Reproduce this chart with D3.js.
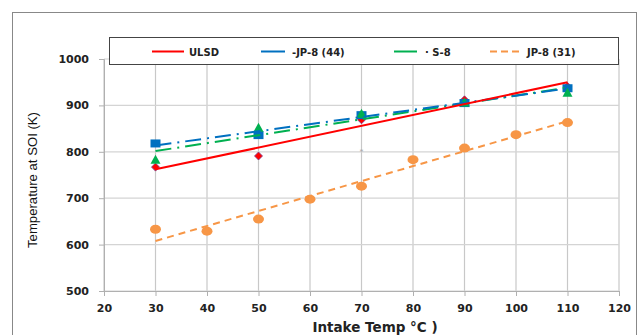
<!DOCTYPE html>
<html>
<head>
<meta charset="utf-8">
<script src="https://cdn.jsdelivr.net/npm/d3@7"></script>
<style>
  body { margin: 0; background: #fff; }
  svg { display: block; }
</style>
</head>
<body>
<div id="chart"></div>
<script>
// intake temperature (deg C) for each fuel
var ulsdX = [30, 50, 70, 90, 110];
var ulsdY = [767, 791, 869, 912, 941];

var jp44X = [30, 50, 70, 90, 110];
var jp44Y = [818, 836, 879, 905, 937];

var s8X = [30, 50, 70, 90, 110];
var s8Y = [783, 852, 882, 906, 927];

var jp31X = [30, 40, 50, 60, 70, 80, 90, 100, 110];
var jp31Y = [633, 629, 655, 698, 726, 783, 808, 837, 863];

var strayX = [70];
var strayY = [800];

var xTicks = [20, 30, 40, 50, 60, 70, 80, 90, 100, 110, 120];
var yTicks = [500, 600, 700, 800, 900, 1000];

const W = 639, H = 335;
var margin = {top: 59, right: 20, bottom: 44, left: 104},
    width = 619 - margin.left,
    height = 291 - margin.top;

var svg = d3.select("#chart").append("svg")
  .attr("width", W).attr("height", H);

// outer chart border
svg.append("rect")
  .attr("x", 12.5).attr("y", 12.5)
  .attr("width", 624).attr("height", 340)
  .attr("fill", "none").attr("stroke", "#888").attr("stroke-width", 1);

var g = svg.append("g")
  .attr("transform", "translate(" + margin.left + "," + margin.top + ")");

var x = d3.scaleLinear().domain([20, 120]).range([0, width]);
var y = d3.scaleLinear().domain([500, 1000]).range([height, 0]);

// grid
g.append("g").selectAll("line").data(xTicks).enter().append("line")
  .attr("x1", d => x(d)).attr("x2", d => x(d))
  .attr("y1", 0).attr("y2", height)
  .attr("stroke", "#c8c8c8").attr("stroke-width", 1.2);
g.append("g").selectAll("line").data(yTicks).enter().append("line")
  .attr("x1", 0).attr("x2", width)
  .attr("y1", d => y(d)).attr("y2", d => y(d))
  .attr("stroke", "#d4d4d4").attr("stroke-width", 1.2);

var xAxis = g.append("g").attr("transform", "translate(0," + height + ")")
  .call(d3.axisBottom(x).tickValues(xTicks).tickSize(5).tickPadding(8));
var yAxis = g.append("g")
  .call(d3.axisLeft(y).tickValues(yTicks).tickFormat(d3.format("d")).tickSize(5).tickPadding(10));

[xAxis, yAxis].forEach(function(a) {
  a.selectAll("path,line").attr("stroke", "#b0b0b0");
  a.selectAll("text")
    .style("font-family", "DejaVu Sans, Verdana, sans-serif")
    .style("font-weight", "bold")
    .style("font-size", "11px")
    .attr("fill", "#222");
});

// axis titles
svg.append("text")
  .attr("x", 375).attr("y", 332)
  .attr("text-anchor", "middle")
  .style("font-family", "DejaVu Sans, Verdana, sans-serif")
  .style("font-weight", "bold").style("font-size", "13.5px")
  .attr("fill", "#222")
  .text("Intake Temp °C )");

svg.append("text")
  .attr("transform", "translate(37,180) rotate(-90)")
  .attr("text-anchor", "middle")
  .style("font-family", "Liberation Sans, Arial, sans-serif")
  .style("font-size", "13.5px")
  .attr("fill", "#111")
  .attr("textLength", 136).attr("lengthAdjust", "spacingAndGlyphs")
  .text("Temperature at SOI (K)");

// least squares trend line, like the spreadsheet trendline
function fit(xs, ys) {
  var n = xs.length, mx = d3.mean(xs), my = d3.mean(ys), sxy = 0, sxx = 0;
  for (var i = 0; i < n; i++) {
    sxy += (xs[i] - mx) * (ys[i] - my);
    sxx += (xs[i] - mx) * (xs[i] - mx);
  }
  var b = sxy / sxx, a = my - b * mx;
  var x0 = d3.min(xs), x1 = d3.max(xs);
  return [[x0, a + b * x0], [x1, a + b * x1]];
}

var series = [
  {name: "ULSD", xs: ulsdX, ys: ulsdY, color: "#ff0000", dash: null, shape: "diamond"},
  {name: "-JP-8 (44)", xs: jp44X, ys: jp44Y, color: "#0070c0", dash: "16,6,2,6", shape: "square"},
  {name: "S-8", xs: s8X, ys: s8Y, color: "#00b050", dash: "16,6,2,6", shape: "triangle"},
  {name: "JP-8 (31)", xs: jp31X, ys: jp31Y, color: "#f79646", dash: "7,5", shape: "circle"}
];

function drawMarker(sel, shape, color) {
  if (shape == "diamond") {
    sel.append("path").attr("d", "M0,-4L4,0L0,4L-4,0Z")
      .attr("fill", color).attr("stroke", "#7a3a8a").attr("stroke-width", 0.8);
  } else if (shape == "square") {
    sel.append("rect").attr("x", -5).attr("y", -4).attr("width", 10).attr("height", 8)
      .attr("fill", color);
  } else if (shape == "triangle") {
    sel.append("path").attr("d", "M0,-5L5,4L-5,4Z").attr("fill", color);
  } else {
    sel.append("ellipse").attr("rx", 5.5).attr("ry", 4.5).attr("fill", color);
  }
}

// markers first, then trendlines on top (as in the reference)
series.forEach(function(s) {
  s.xs.forEach(function(v, i) {
    var m = g.append("g").attr("transform", "translate(" + x(v) + "," + y(s.ys[i]) + ")");
    drawMarker(m, s.shape, s.color);
  });
});

// stray grey point
strayX.forEach(function(v, i) {
  g.append("text").attr("x", x(v)).attr("y", y(strayY[i]) + 3)
    .attr("text-anchor", "middle").style("font-size", "8px").attr("fill", "#aaa").text("*");
});

var line = d3.line().x(d => x(d[0])).y(d => y(d[1]));
series.slice().reverse().forEach(function(s) {
  g.append("path").datum(fit(s.xs, s.ys))
    .attr("d", line)
    .attr("fill", "none")
    .attr("stroke", s.color)
    .attr("stroke-width", 2)
    .attr("stroke-dasharray", s.dash);
});

// legend
svg.append("rect")
  .attr("x", 109.5).attr("y", 37.5).attr("width", 509).attr("height", 27)
  .attr("fill", "#fff").attr("stroke", "#444").attr("stroke-width", 1);

var legendPos = [
  {x1: 152, x2: 184, tx: 189},
  {x1: 261, x2: 285, tx: 292},
  {x1: 394, x2: 417, tx: 425},
  {x1: 490, x2: 522, tx: 527}
];
var legendDash = [null, null, null, "7,4"];
series.forEach(function(s, i) {
  var p = legendPos[i];
  svg.append("line")
    .attr("x1", p.x1).attr("x2", p.x2).attr("y1", 51.5).attr("y2", 51.5)
    .attr("stroke", s.color).attr("stroke-width", 2)
    .attr("stroke-dasharray", legendDash[i]);
  svg.append("text")
    .attr("x", p.tx).attr("y", 55.5)
    .style("font-family", "DejaVu Sans, Verdana, sans-serif")
    .style("font-weight", "bold").style("font-size", "10px")
    .attr("fill", "#222")
    .text(i == 2 ? "· S-8" : s.name);
});
</script>
</body>
</html>
